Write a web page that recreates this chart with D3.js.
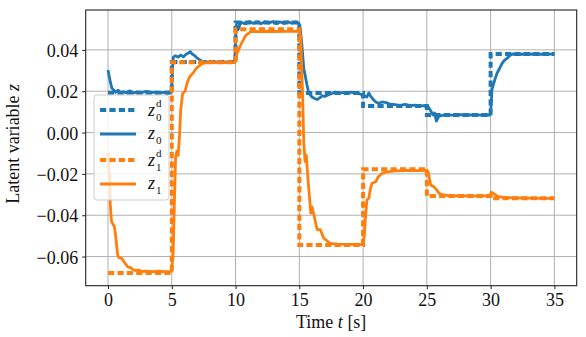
<!DOCTYPE html>
<html><head><meta charset="utf-8">
<script src="https://cdn.jsdelivr.net/npm/d3@7"></script>
<style>body{margin:0;background:#fff}svg{display:block}</style>
</head><body>
<script>
// ---- data ----
const xTicks = [0, 5, 10, 15, 20, 25, 30, 35];
const yTicks = [-0.06, -0.04, -0.02, 0.00, 0.02, 0.04];
const xLim = [-1.75, 36.75];
const yLim = [-0.0741, 0.0593];

// desired (step) signals: value holds from each time to the next
const stepTimes = [0, 5, 10, 15, 20, 25, 30, 35];
const z0dVals = [0.0193, 0.0342, 0.0532, 0.0192, 0.0128, 0.0085, 0.0380, 0.0380];
const z1dVals = [-0.0680, 0.0340, 0.0500, -0.0544, -0.0178, -0.0307, -0.0318, -0.0318];

// measured z0
const z0T = [0,0.1,0.2,0.3,0.45,0.6,0.8,1.0,1.2,1.4,1.7,2.0,2.3,2.6,3.0,3.4,3.8,4.2,4.6,4.97,
  5.05,5.12,5.3,5.5,5.7,5.9,6.1,6.3,6.45,6.6,6.8,7.0,7.2,7.4,7.7,8.0,8.4,8.8,9.2,9.6,9.95,
  10.0,10.05,10.2,10.35,10.5,10.8,11.1,11.4,11.7,12.0,12.3,12.6,12.9,13.2,13.5,13.8,14.1,14.4,14.7,14.97,
  15.1,15.2,15.35,15.45,15.6,15.75,16.0,16.2,16.4,16.6,16.8,17.0,17.3,17.6,17.8,18.1,18.4,18.7,19.0,19.4,19.7,19.9,
  20.1,20.3,20.45,20.6,20.8,21.0,21.2,21.5,21.8,22.1,22.5,22.9,23.3,23.7,24.1,24.5,24.95,
  25.1,25.3,25.5,25.6,25.75,25.9,26.1,26.5,27.0,27.5,28.0,28.5,29.0,29.5,29.97,
  30.05,30.1,30.3,30.5,30.7,30.9,31.1,31.3,31.5,31.7,32.2,33.0,34.0,35.0];
const z0V = [0.0303,0.0270,0.0240,0.0215,0.0205,0.0195,0.0205,0.0192,0.0198,0.0193,0.0202,0.0192,0.0197,0.0193,0.0199,0.0194,0.0196,0.0193,0.0196,0.0195,
  0.0300,0.0365,0.0372,0.0365,0.0375,0.0366,0.0378,0.0385,0.0392,0.0380,0.0372,0.0360,0.0352,0.0344,0.0342,0.0338,0.0342,0.0338,0.0341,0.0338,0.0342,
  0.0450,0.0520,0.0497,0.0525,0.0532,0.0526,0.0537,0.0528,0.0535,0.0527,0.0536,0.0529,0.0537,0.0527,0.0535,0.0528,0.0536,0.0529,0.0535,0.0530,
  0.0490,0.0424,0.0310,0.0279,0.0230,0.0190,0.0172,0.0165,0.0160,0.0168,0.0178,0.0175,0.0183,0.0190,0.0196,0.0188,0.0194,0.0190,0.0195,0.0193,0.0188,0.0183,
  0.0178,0.0172,0.0192,0.0175,0.0160,0.0148,0.0142,0.0148,0.0145,0.0138,0.0135,0.0132,0.0136,0.0130,0.0133,0.0129,0.0131,
  0.0125,0.0105,0.0085,0.0095,0.0055,0.0075,0.0082,0.0086,0.0084,0.0087,0.0085,0.0086,0.0084,0.0086,0.0085,
  0.0140,0.0206,0.0250,0.0287,0.0310,0.0335,0.0350,0.0360,0.0372,0.0380,0.0379,0.0380,0.0379,0.0380];

// measured z1
const z1T = [0,0.1,0.18,0.27,0.35,0.5,0.6,0.75,0.85,1.1,1.3,1.55,1.8,2.0,2.2,2.4,2.7,3.0,3.5,4.0,4.5,4.97,
  5.1,5.2,5.3,5.4,5.5,5.6,5.7,5.85,6.05,6.2,6.4,6.7,6.9,7.1,7.4,8.0,9.0,9.95,
  10.1,10.4,10.8,11.2,12.0,13.0,14.0,14.97,
  15.1,15.25,15.35,15.45,15.55,15.65,15.75,15.9,16.0,16.15,16.4,16.65,16.9,17.1,17.4,18.0,19.0,19.95,
  20.1,20.2,20.3,20.45,20.55,20.7,21.0,21.2,21.5,21.9,22.5,23.5,24.5,25.0,
  25.1,25.3,25.55,25.8,25.95,26.3,26.8,27.5,28.5,29.5,29.95,30.05,30.3,30.6,31.0,32.0,33.0,34.0,35.0];
const z1V = [-0.0100,-0.0200,-0.0350,-0.0430,-0.0440,-0.0455,-0.0500,-0.0590,-0.0605,-0.0610,-0.0630,-0.0650,-0.0655,-0.0665,-0.0668,-0.0665,-0.0672,-0.0670,-0.0673,-0.0671,-0.0673,-0.0672,
  -0.0600,-0.0350,-0.0120,-0.0090,-0.0110,-0.0020,0.0110,0.0190,0.0200,0.0240,0.0270,0.0290,0.0310,0.0320,0.0335,0.0340,0.0338,0.0340,
  0.0380,0.0424,0.0470,0.0488,0.0490,0.0489,0.0490,0.0490,
  0.0470,0.0200,-0.0050,-0.0140,-0.0110,-0.0200,-0.0280,-0.0390,-0.0360,-0.0400,-0.0470,-0.0470,-0.0510,-0.0520,-0.0536,-0.0540,-0.0541,-0.0542,
  -0.0500,-0.0400,-0.0326,-0.0318,-0.0280,-0.0245,-0.0238,-0.0213,-0.0197,-0.0190,-0.0185,-0.0183,-0.0184,-0.0182,
  -0.0190,-0.0254,-0.0262,-0.0280,-0.0294,-0.0302,-0.0306,-0.0305,-0.0307,-0.0306,-0.0305,-0.0288,-0.0298,-0.0310,-0.0314,-0.0316,-0.0317,-0.0318,-0.0318];

const blue = "#1f77b4", orange = "#ff7f0e";
const W = 586, H = 337;
const plot = {l: 85.7, r: 576.7, t: 10, b: 285.7};
const FONT = "'Liberation Serif', 'DejaVu Serif', serif";
const FS = 18;

const svg = d3.select("body").append("svg").attr("width", W).attr("height", H);
const x = d3.scaleLinear().domain(xLim).range([plot.l, plot.r]);
const y = d3.scaleLinear().domain(yLim).range([plot.b, plot.t]);

// grid
const grid = svg.append("g");
grid.selectAll(".gx").data(xTicks).join("line")
  .attr("x1", d => x(d)).attr("x2", d => x(d)).attr("y1", plot.t).attr("y2", plot.b)
  .attr("stroke", "#b0b0b0").attr("stroke-width", 1);
grid.selectAll(".gy").data(yTicks).join("line")
  .attr("y1", d => y(d)).attr("y2", d => y(d)).attr("x1", plot.l).attr("x2", plot.r)
  .attr("stroke", "#b0b0b0").attr("stroke-width", 1);

// lines
const stepLine = d3.line().x(d => x(d[0])).y(d => y(d[1])).curve(d3.curveStepAfter);
const line = d3.line().x(d => x(d[0])).y(d => y(d[1]));
const zip = (a, b) => a.map((t, i) => [t, b[i]]);
const dash = "6.2,3.2";

svg.append("path").attr("d", stepLine(zip(stepTimes, z0dVals))).attr("fill", "none")
  .attr("stroke", blue).attr("stroke-width", 4).attr("stroke-dasharray", dash);
svg.append("path").attr("d", line(zip(z0T, z0V))).attr("fill", "none")
  .attr("stroke", blue).attr("stroke-width", 2.8).attr("stroke-linejoin", "round");
svg.append("path").attr("d", stepLine(zip(stepTimes, z1dVals))).attr("fill", "none")
  .attr("stroke", orange).attr("stroke-width", 4).attr("stroke-dasharray", dash);
svg.append("path").attr("d", line(zip(z1T, z1V))).attr("fill", "none")
  .attr("stroke", orange).attr("stroke-width", 2.8).attr("stroke-linejoin", "round");

// axes
const xAxis = d3.axisBottom(x).tickValues(xTicks).tickSize(3.5).tickPadding(5).tickFormat(d3.format("d"));
const yAxis = d3.axisLeft(y).tickValues(yTicks).tickSize(3.5).tickPadding(4)
  .tickFormat(d => d3.format(".2f")(d).replace("-", "\u2212"));
const gx = svg.append("g").attr("transform", `translate(0,${plot.b})`).call(xAxis);
const gy = svg.append("g").attr("transform", `translate(${plot.l},0)`).call(yAxis);
[gx, gy].forEach(g => {
  g.select(".domain").remove();
  g.selectAll(".tick line").attr("stroke", "#222").attr("stroke-width", 1);
  g.selectAll(".tick text").attr("font-family", FONT).attr("font-size", FS).attr("fill", "#111");
});
gx.selectAll(".tick text").attr("dy", "0.66em");
gy.selectAll(".tick text").attr("dy", "0.36em");

// spines
svg.append("rect").attr("x", plot.l).attr("y", plot.t).attr("width", plot.r - plot.l).attr("height", plot.b - plot.t)
  .attr("fill", "none").attr("stroke", "#222").attr("stroke-width", 1.1);

// axis labels
const xl = svg.append("text").attr("x", (plot.l + plot.r) / 2).attr("y", 328).attr("text-anchor", "middle")
  .attr("font-family", FONT).attr("font-size", FS).attr("fill", "#111");
xl.append("tspan").text("Time ");
xl.append("tspan").attr("font-style", "italic").text("t");
xl.append("tspan").text(" [s]");

const yl = svg.append("text").attr("transform", `translate(19,${(plot.t + plot.b) / 2 - 4}) rotate(-90)`)
  .attr("text-anchor", "middle").attr("font-family", FONT).attr("font-size", FS).attr("fill", "#111");
yl.append("tspan").text("Latent variable ");
yl.append("tspan").attr("font-style", "italic").text("z");

// legend
const leg = svg.append("g");
leg.append("rect").attr("x", 94).attr("y", 95).attr("width", 75).attr("height", 105).attr("rx", 3)
  .attr("fill", "#fff").attr("fill-opacity", 0.8).attr("stroke", "#cccccc").attr("stroke-width", 1);
const legItems = [
  {c: blue, d: true, sub: "0", sup: "d", y: 110, tb: 116},
  {c: blue, d: false, sub: "0", sup: null, y: 134, tb: 139},
  {c: orange, d: true, sub: "1", sup: "d", y: 160, tb: 166},
  {c: orange, d: false, sub: "1", sup: null, y: 184, tb: 189}
];
legItems.forEach(it => {
  leg.append("line").attr("x1", 100).attr("x2", 136).attr("y1", it.y).attr("y2", it.y)
    .attr("stroke", it.c).attr("stroke-width", it.d ? 4 : 2.8).attr("stroke-dasharray", it.d ? dash : null);
  leg.append("text").attr("x", 148).attr("y", it.tb).attr("font-family", FONT).attr("font-size", FS)
    .attr("font-style", "italic").attr("fill", "#111").text("z");
  leg.append("text").attr("x", 156).attr("y", it.tb + 5).attr("font-family", FONT).attr("font-size", 11)
    .attr("fill", "#111").text(it.sub);
  if (it.sup) leg.append("text").attr("x", 156).attr("y", it.tb - 9).attr("font-family", FONT).attr("font-size", 11)
    .attr("fill", "#111").text(it.sup);
});
</script>
</body></html>
